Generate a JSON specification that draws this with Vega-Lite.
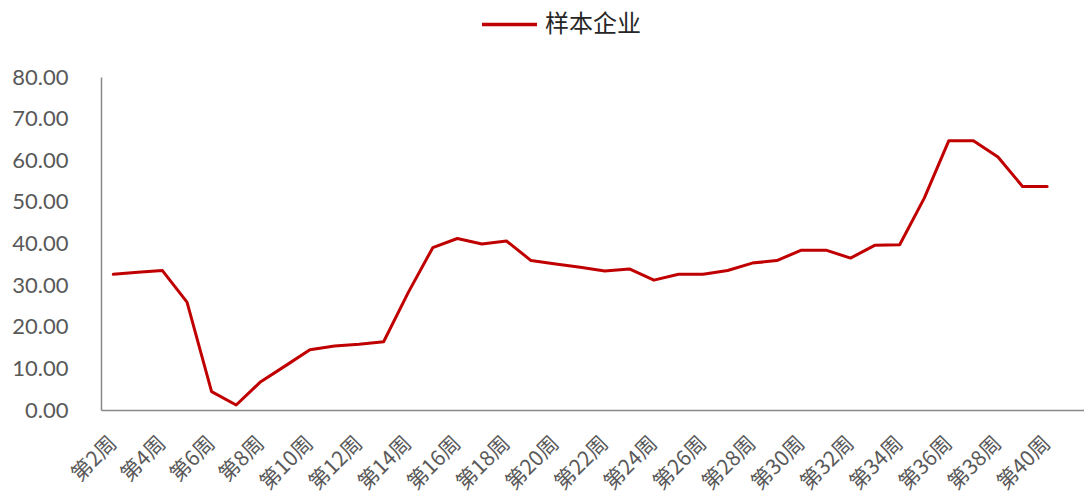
{
  "$schema": "https://vega.github.io/schema/vega-lite/v6.json",
  "autosize": "none",
  "width": 983,
  "height": 333,
  "padding": {"left": 101, "top": 77, "right": 0, "bottom": 93},
  "background": "white",
  "config": {"view": {"stroke": null}},
  "data": {"values": [
    {"week": "第2周", "value": 32.6, "series": "样本企业"},
    {"week": "第3周", "value": 33.1, "series": "样本企业"},
    {"week": "第4周", "value": 33.5, "series": "样本企业"},
    {"week": "第5周", "value": 25.9, "series": "样本企业"},
    {"week": "第6周", "value": 4.4, "series": "样本企业"},
    {"week": "第7周", "value": 1.2, "series": "样本企业"},
    {"week": "第8周", "value": 6.8, "series": "样本企业"},
    {"week": "第9周", "value": 10.6, "series": "样本企业"},
    {"week": "第10周", "value": 14.5, "series": "样本企业"},
    {"week": "第11周", "value": 15.4, "series": "样本企业"},
    {"week": "第12周", "value": 15.8, "series": "样本企业"},
    {"week": "第13周", "value": 16.4, "series": "样本企业"},
    {"week": "第14周", "value": 28.2, "series": "样本企业"},
    {"week": "第15周", "value": 39.0, "series": "样本企业"},
    {"week": "第16周", "value": 41.2, "series": "样本企业"},
    {"week": "第17周", "value": 39.9, "series": "样本企业"},
    {"week": "第18周", "value": 40.6, "series": "样本企业"},
    {"week": "第19周", "value": 35.9, "series": "样本企业"},
    {"week": "第20周", "value": 35.1, "series": "样本企业"},
    {"week": "第21周", "value": 34.3, "series": "样本企业"},
    {"week": "第22周", "value": 33.4, "series": "样本企业"},
    {"week": "第23周", "value": 33.9, "series": "样本企业"},
    {"week": "第24周", "value": 31.2, "series": "样本企业"},
    {"week": "第25周", "value": 32.6, "series": "样本企业"},
    {"week": "第26周", "value": 32.6, "series": "样本企业"},
    {"week": "第27周", "value": 33.5, "series": "样本企业"},
    {"week": "第28周", "value": 35.3, "series": "样本企业"},
    {"week": "第29周", "value": 35.9, "series": "样本企业"},
    {"week": "第30周", "value": 38.4, "series": "样本企业"},
    {"week": "第31周", "value": 38.4, "series": "样本企业"},
    {"week": "第32周", "value": 36.5, "series": "样本企业"},
    {"week": "第33周", "value": 39.6, "series": "样本企业"},
    {"week": "第34周", "value": 39.7, "series": "样本企业"},
    {"week": "第35周", "value": 50.9, "series": "样本企业"},
    {"week": "第36周", "value": 64.7, "series": "样本企业"},
    {"week": "第37周", "value": 64.7, "series": "样本企业"},
    {"week": "第38周", "value": 60.8, "series": "样本企业"},
    {"week": "第39周", "value": 53.7, "series": "样本企业"},
    {"week": "第40周", "value": 53.7, "series": "样本企业"}
  ]},
  "mark": {"type": "line", "strokeWidth": 3, "strokeJoin": "round", "strokeCap": "round"},
  "encoding": {
    "x": {
      "field": "week",
      "type": "ordinal",
      "sort": null,
      "scale": {
        "type": "point",
        "padding": 0.5,
        "domain": ["第2周","第3周","第4周","第5周","第6周","第7周","第8周","第9周","第10周","第11周","第12周","第13周","第14周","第15周","第16周","第17周","第18周","第19周","第20周","第21周","第22周","第23周","第24周","第25周","第26周","第27周","第28周","第29周","第30周","第31周","第32周","第33周","第34周","第35周","第36周","第37周","第38周","第39周","第40周","第41周"]
      },
      "axis": {
        "title": null,
        "values": ["第2周","第4周","第6周","第8周","第10周","第12周","第14周","第16周","第18周","第20周","第22周","第24周","第26周","第28周","第30周","第32周","第34周","第36周","第38周","第40周"],
        "labelAngle": -45,
        "labelAlign": "right",
        "labelBaseline": "middle",
        "labelFont": "Noto Sans CJK SC",
        "labelFontSize": 21,
        "labelColor": "#595959",
        "labelPadding": 30,
        "labelOffset": 0,
        "labelOverlap": false,
        "ticks": false,
        "domainColor": "#898989",
        "domainWidth": 1.5,
        "grid": false
      }
    },
    "y": {
      "field": "value",
      "type": "quantitative",
      "scale": {"domain": [0, 80], "nice": false},
      "axis": {
        "title": null,
        "values": [0, 10, 20, 30, 40, 50, 60, 70, 80],
        "format": ".2f",
        "labelFont": "Lato",
        "labelFontSize": 22,
        "labelColor": "#595959",
        "labelPadding": 33,
        "ticks": false,
        "domainColor": "#898989",
        "domainWidth": 1.5,
        "grid": false
      }
    },
    "color": {
      "field": "series",
      "type": "nominal",
      "scale": {"range": ["#C00000"]},
      "legend": {
        "title": null,
        "orient": "none",
        "legendX": 379,
        "legendY": -82,
        "symbolType": "stroke",
        "symbolSize": 3025,
        "symbolStrokeWidth": 3.5,
        "labelFont": "Noto Sans CJK SC",
        "labelFontSize": 24,
        "labelColor": "#262626",
        "labelOffset": 6
      }
    }
  }
}
